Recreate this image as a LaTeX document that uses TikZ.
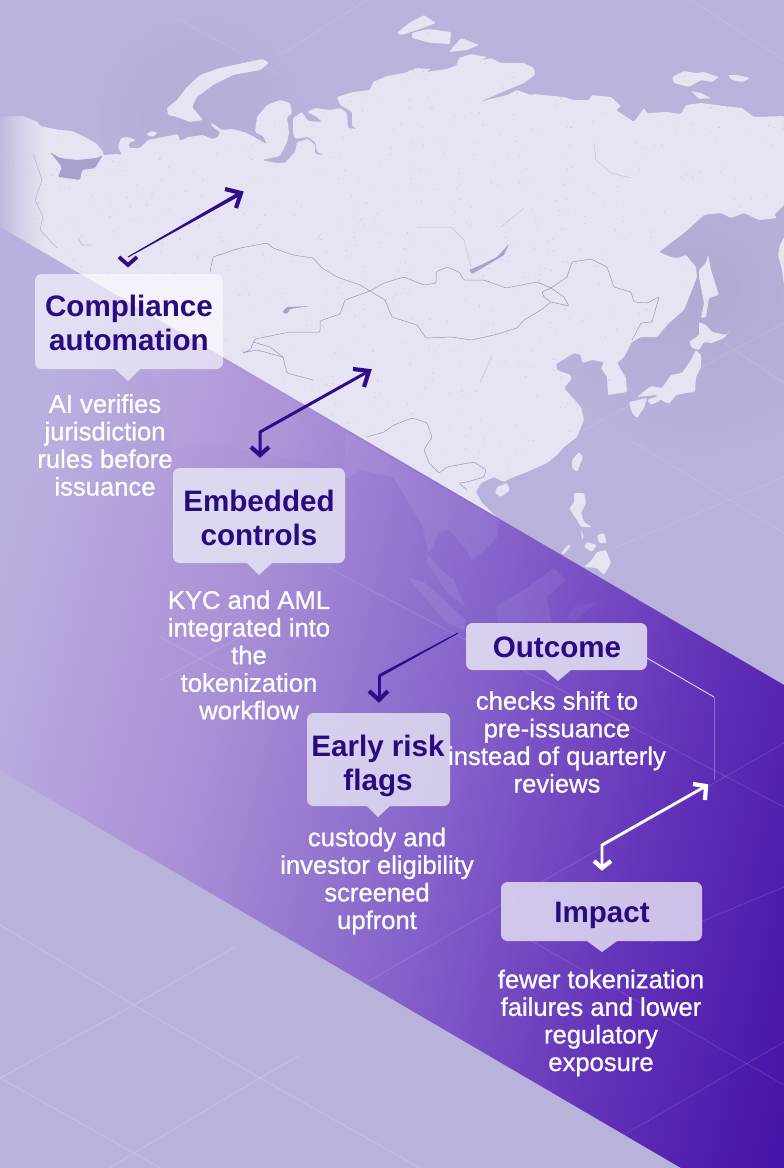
\documentclass[tikz,border=0pt]{standalone}
\usepackage{fontspec}
\setmainfont{Liberation Sans}
\newfontfamily\bodyfont[FakeBold=0.8]{Liberation Sans}
\usetikzlibrary{calc,arrows.meta,shapes.geometric}
\definecolor{base}{HTML}{B9B2DA}
\definecolor{landc}{HTML}{E6E3F2}
\definecolor{waterc}{HTML}{A8A1CC}
\definecolor{borderc}{HTML}{9C95C2}
\definecolor{ink}{HTML}{2A0A80}
\definecolor{arrowc}{HTML}{2F0C8C}
\definecolor{cardc}{HTML}{E6E2F4}
\definecolor{bA}{HTML}{BBAFDF}
\definecolor{bB}{HTML}{A88FD6}
\definecolor{bC}{HTML}{8460CA}
\definecolor{bD}{HTML}{6232B8}
\definecolor{bE}{HTML}{4310A6}
\pgfdeclarehorizontalshading{bandsh}{100bp}{color(0bp)=(bA); color(25bp)=(bA); color(40bp)=(bB); color(55bp)=(bC); color(68bp)=(bD); color(81bp)=(bE); color(100bp)=(bE)}
\newcommand{\landpath}{
 (0,117)--(23,116)--(38,122)--(40,126)--(60,130)--(72,131)--(85,137)--(97,144)--(103,152)--(103,155)--(117,154)--(122,155)--(118,147)--(121,138)--(128,137)--(136,140)--(129,143)--(129,148)--(140,148)--(148,140)--(163,137)--(178,134)--(180,141)--(188,137)--(203,135)--(212,139)--(218,137)--(220,132)--(213,127)--(210,123)--(215,125)--(222,130)--(233,129)--(247,133)--(263,142)--(267,144)--(263,136)--(255,132)--(257,117)--(267,105)--(280,100)--(290,103)--(292,113)--(287,117)--(289,133)--(287,142)--(280,156)--(262,160)--(277,163)--(285,163)--(295,152)--(297,142)--(308,139)--(315,145)--(315,154)--(325,155)--(317,152)--(315,142)--(308,137)--(295,139)--(293,133)--(293,118)--(302,112)--(308,121)--(322,122)--(317,117)--(307,112)--(315,108)--(330,110)--(340,108)--(347,113)--(348,128)--(357,129)--(352,126)--(352,112)--(340,105)--(337,97)--(353,92)--(370,90)--(373,82)--(387,76)--(404,73)--(417,68)--(431,69)--(426,72)--(447,69)--(457,65)--(459,58)--(471,54)--(487,57)--(481,60)--(491,58)--(501,63)--(524,63)--(534,68)--(535,75)--(524,83)--(512,88)--(479,102)--(507,95)--(517,90)--(531,95)--(534,94)--(564,97)--(574,100)--(589,100)--(592,95)--(611,97)--(621,106)--(616,110)--(634,122)--(644,108)--(647,113)--(667,112)--(681,114)--(686,105)--(701,103)--(724,106)--(742,108)--(754,117)--(784,116)--(784,205)--(774,215)--(777,218)--(759,220)--(744,213)--(731,218)--(721,213)--(704,215)--(684,233)--(659,252)--(671,257)--(677,258)--(686,255)--(696,267)--(697,277)--(692,290)--(684,310)--(669,323)--(657,337)--(641,337)--(632,342)--(624,357)--(617,363)--(626,378)--(627,392)--(608,395)--(607,377)--(601,368)--(604,362)--(592,360)--(582,363)--(581,355)--(574,353)--(566,358)--(556,364)--(557,370)--(571,375)--(571,380)--(564,388)--(581,407)--(584,420)--(577,437)--(564,447)--(557,455)--(547,463)--(527,472)--(511,478)--(504,482)--(494,477)--(481,483)--(476,492)--(482,503)--(497,517)--(520,650)--(0,650)--cycle
 (167,108)--(177,100)--(187,87)--(200,75)--(220,68)--(248,62)--(263,59)--(269,63)--(260,70)--(233,75)--(213,85)--(197,97)--(192,107)--(203,120)--(190,122)--(177,117)--(168,115)--cycle
 (146,134)--(152,131)--(158,133)--(152,137)--cycle
 (397,33)--(409,23)--(424,15)--(436,23)--(420,29)--(405,34)--(400,35)--cycle
 (412,33)--(428,29)--(451,32)--(450,44)--(431,43)--(412,38)--cycle
 (449,52)--(461,38)--(479,45)--(467,50)--cycle
 (672,77)--(684,71)--(696,73)--(704,72)--(719,77)--(712,82)--(701,80)--(689,87)--(674,83)--cycle
 (728,75)--(737,75)--(750,78)--(742,82)--(732,80)--cycle
 (691,91)--(701,93)--(711,98)--(699,99)--cycle
 (784,237)--(780,245)--(778,255)--(782,270)--(784,285)--cycle
 (699,270)--(706,263)--(708,255)--(711,270)--(719,295)--(718,295)--(709,298)--(706,317)--(701,318)--(704,303)--(699,277)--cycle
 (699,322)--(706,325)--(712,332)--(726,335)--(732,329)--(724,338)--(712,343)--(704,342)--(699,350)--(692,348)--(689,342)--(699,335)--(699,327)--cycle
 (696,350)--(701,355)--(701,367)--(696,377)--(695,392)--(686,393)--(676,395)--(669,404)--(661,400)--(656,395)--(637,397)--(651,386)--(662,388)--(671,375)--(682,373)--(691,360)--cycle
 (629,402)--(647,398)--(644,408)--(637,418)--(632,413)--cycle
 (647,400)--(661,395)--(661,400)--(651,405)--cycle
 (579,452)--(583,457)--(577,472)--(572,468)--(572,460)--cycle
 (497,487)--(507,483)--(510,490)--(501,497)--(495,493)--cycle
 (574,493)--(584,493)--(586,503)--(581,513)--(584,522)--(592,527)--(581,527)--(577,520)--(569,508)--(574,503)--cycle
 (597,552)--(606,550)--(611,563)--(604,575)--(597,568)--(584,567)--(592,560)--cycle
 (597,535)--(604,533)--(607,543)--(599,543)--cycle
 (587,542)--(597,545)--(592,552)--(584,547)--cycle
 (581,530)--(584,537)--(582,540)--cycle
 (569,544)--(571,546)--(563,555)--(561,553)--cycle
}
\newcommand{\taperline}[5]{\fill[#1] ($(#2)!#4!90:(#3)$)--($(#3)!#5!-90:(#2)$)--($(#3)!#5!90:(#2)$)--($(#2)!#4!-90:(#3)$)--cycle;}
\tikzset{
 x=1pt,y=-1pt,
 cardbox/.style={draw=none,rounded corners=6.5pt},
 gridline/.style={draw=white,line width=.7pt,opacity=.14},
 coast/.style={draw=borderc,line width=.5pt,line join=round,rounded corners=1pt},
 heading/.style={font=\fontsize{29.6}{33.5}\selectfont\bfseries,text=ink,align=center,inner sep=0pt},
 body/.style={font=\bodyfont\fontsize{25.6}{27.6}\selectfont,text=white,align=center,inner sep=0pt},
 chevron/.style={line width=4.2pt,line join=miter,line cap=butt,fill=none},
}
\begin{document}
\begin{tikzpicture}
\useasboundingbox (0,0) rectangle (784,1168);
\fill[base] (0,0) rectangle (784,1168);
% soft darker seas
\foreach \r in {20,40,...,160}{\fill[waterc,opacity=.03] (700,290) circle[radius=\r];}
\foreach \r in {20,40,...,100}{\fill[waterc,opacity=.03] (200,120) circle[radius=\r];}
\begin{scope}
\clip (0,0)--(784,0)--(784,685)--(0,227)--cycle;
\draw[gridline] (180,20)--(280,75);
\draw[gridline] (277,57)--(367,0);
\draw[gridline] (691,0)--(784,60);
\draw[gridline] (584,430)--(784,323);
\draw[gridline] (617,547)--(784,477);
\draw[gridline] (724,343)--(784,383);
\draw[gridline] (630,440)--(784,533);
% land
\fill[landc,rounded corners=1.2pt] \landpath;
\begin{scope}
\clip[rounded corners=1.2pt] \landpath;
\pgfmathsetseed{7}
\foreach \i in {1,...,1800}{
 \pgfmathsetmacro{\dx}{rnd*784}
 \pgfmathsetmacro{\dy}{rnd*560}
 \pgfmathsetmacro{\dr}{.3+rnd*.4}
 \fill[borderc,opacity=.38] (\dx,\dy) circle[radius=\dr];
}
\end{scope}
% inland water
\fill[waterc,rounded corners=1.5pt] (50,152)--(60,158)--(77,160)--(97,158)--(103,155)--(95,168)--(82,170)--(80,180)--(67,178)--(58,177)--(62,167)--cycle;
\fill[waterc,rounded corners=1pt] (282,312)--(287,307)--(310,306)--(290,309)--(287,314)--cycle;
\fill[waterc,rounded corners=1pt] (509,244)--(504,255)--(484,267)--(472,274)--(469,270)--(481,265)--(497,257)--cycle;
% borders
\draw[coast] (210,272)--(213,257)--(240,248)--(267,243)--(273,248)--(293,255)--(313,258)--(322,268)--(337,277)--(360,285)--(370,291)--(384,283)--(404,277)--(424,285)--(436,283)--(436,272)--(447,267)--(459,272)--(464,280)--(484,280)--(506,288)--(537,282)--(551,288)--(567,277)--(572,262)--(591,259)--(607,267)--(614,287)--(631,292)--(634,302)--(647,303)--(659,297)--(652,322)--(641,323)--(632,340);
\draw[coast] (370,291)--(385,300)--(389,310)--(392,317)--(417,325)--(426,338)--(452,337)--(471,340)--(494,335)--(517,328)--(524,320)--(541,310)--(551,302)--(544,297)--(542,292)--(551,288);
\draw[coast] (551,302)--(569,306)--(564,297)--(551,288);
\draw[coast] (370,291)--(345,300)--(340,314)--(320,321)--(320,332)--(290,332)--(255,339)--(250,350)--(242,353)--(257,350)--(283,357)--(287,373)--(313,380);
\draw[coast] (253,342)--(270,347)--(283,357);
\draw[coast] (384,432)--(394,425)--(412,418)--(419,420)--(427,423)--(432,437)--(424,450)--(429,463)--(439,473)--(447,467)--(474,462)--(486,470)--(484,477)--(467,482)--(459,483)--(467,490);
\draw[coast] (367,437)--(384,432);
\draw[coast,opacity=.45] (594,143)--(596,160)--(611,173)--(631,178);
\draw[coast,opacity=.45] (417,227)--(451,227)--(464,240)--(471,267);
\draw[coast,opacity=.45] (501,227)--(524,208);
\draw[coast,opacity=.45] (480,383)--(492,355);
\draw[coast,opacity=.6] (33,153)--(42,180)--(35,200)--(43,217)--(40,230)--(57,248);
\draw[coast,opacity=.6] (78,237)--(82,245)--(92,245);
% left fade of the land
\clip[rounded corners=1.2pt] \landpath;
\foreach \i in {0,...,15}{
 \pgfmathsetmacro{\op}{.82*(1-\i/16)^1.4}
 \fill[base,opacity=\op] ({\i*3},100) rectangle ({\i*3+3.1},300);
}
\end{scope}
% band
\begin{scope}
\clip (0,227)--(784,685)--(784,1168)--(681,1168)--(0,770)--cycle;
\shade[shading=bandsh,shading angle=-14] (0,227) rectangle (784,1168);
\fill[white,opacity=.04] (130,303)--(240,370)--(345,431)--(345,470)--(233,447)--(173,447)--cycle;
\fill[white,opacity=.08] (345,431)--(499,520)--(497,537)--(481,553)--(471,560)--(467,550)--(449,530)--(439,532)--(431,550)--(426,553)--(441,570)--(454,580)--(464,605)--(447,593)--(439,580)--(427,563)--(427,547)--(423,527)--(403,493)--(393,477)--(360,470)--(345,480)--cycle;
\fill[white,opacity=.08] (407,577)--(424,582)--(444,600)--(466,620)--(464,630)--(447,623)--(427,600)--cycle;
\fill[white,opacity=.07] (496,607)--(507,600)--(527,588)--(554,568)--(566,580)--(547,597)--(551,622)--(497,622)--cycle;
\fill[white,opacity=.05] (567,618)--(574,607)--(597,602)--(584,613)--(574,622)--cycle;
\draw[gridline] (327,567)--(784,807);
\draw[gridline] (365,983)--(784,743);
\draw[gridline] (160,637)--(240,680);
\draw[gridline] (160,680)--(250,632);
\draw[gridline] (530,940)--(784,1085);
\draw[gridline] (620,1137)--(784,1042);
\draw[gridline] (650,943)--(784,887);
\end{scope}
% grid below band
\begin{scope}
\clip (0,770)--(681,1168)--(0,1168)--cycle;
\draw[gridline,opacity=.22] (0,925)--(134,1005)--(260,1078)--(420,1168);
\draw[gridline,opacity=.22] (0,1078)--(134,1153)--(160,1168);
\draw[gridline,opacity=.22] (0,1078)--(134,1005)--(235,947);
\draw[gridline,opacity=.22] (110,1168)--(134,1153)--(260,1078)--(300,1055);
\end{scope}
% cards
\fill[white,opacity=.6,cardbox] (35,274) rectangle (223,369);
\fill[white,opacity=.6] (115,369)--(128,381)--(140,369)--cycle;
\fill[cardc,opacity=.86,cardbox] (173,468) rectangle (345,563);
\fill[cardc,opacity=.86] (247,563)--(259,575)--(272,563)--cycle;
\fill[cardc,opacity=.82,cardbox] (307,713) rectangle (450,806);
\fill[cardc,opacity=.82] (367,806)--(378,817)--(390,806)--cycle;
\fill[cardc,opacity=.86,cardbox] (466,623) rectangle (647,670);
\fill[cardc,opacity=.86] (545,670)--(558,681)--(571,670)--cycle;
\fill[cardc,opacity=.82,cardbox] (501,882) rectangle (702,941);
\fill[cardc,opacity=.82] (587,941)--(602,952)--(617,941)--cycle;
% headings
\node[heading] (h1) at (129,323) {Compliance\\automation};
\node[heading] (h2) at (259,518) {Embedded\\controls};
\node[heading] (h3) at (378,766) {Early risk\\flags};
\node[heading] (h4) at (557,647) {Outcome};
\node[heading] (h5) at (602,915) {Impact};
% bodies
\node[body] (b1) at (105,445) {AI verifies\\jurisdiction\\rules before\\issuance};
\node[body] (b2) at (249,655) {KYC and AML\\integrated into\\the\\tokenization\\workflow};
\node[body] (b3) at (377,881) {custody and\\investor eligibility\\screened\\upfront};
\node[body] (b4) at (557,742) {checks shift to\\pre-issuance\\instead of quarterly\\reviews};
\node[body] (b5) at (601,1023) {fewer tokenization\\failures and lower\\regulatory\\exposure};
% connectors
\coordinate (a1s) at (128,265); \coordinate (a1e) at (128,257); \coordinate (a1t) at (241,193);
\coordinate (a1l) at (119,257); \coordinate (a1r) at (137,257);
\coordinate (a1u) at (225,189); \coordinate (a1v) at (236,208);
\coordinate (a2s) at (260,455); \coordinate (a2e) at (260,432); \coordinate (a2t) at (369,371);
\coordinate (a2l) at (251,447); \coordinate (a2r) at (269,447);
\coordinate (a2u) at (353,369); \coordinate (a2v) at (364,387);
\coordinate (a3s) at (458,633); \coordinate (a3e) at (379,676); \coordinate (a3t) at (379,700);
\coordinate (a3l) at (369,691); \coordinate (a3r) at (388,691);
\coordinate (a4s) at (602,868); \coordinate (a4e) at (602,845); \coordinate (a4t) at (706,786);
\coordinate (a4l) at (594,861); \coordinate (a4r) at (611,861);
\coordinate (a4u) at (693,784); \coordinate (a4v) at (705,800);
\coordinate (a5s) at (647,658); \coordinate (a5e) at (714,697); \coordinate (a5t) at (714,780);
% connector 1, tapered towards the lower end
\taperline{arrowc}{a1e}{a1t}{.5pt}{2pt}
\draw[arrowc,chevron,line width=3.8pt] (a1l)--(a1s)--(a1r);
\draw[arrowc,chevron] (a1u)--(a1t)--(a1v);
% connector 2
\draw[arrowc,line width=3pt] (a2s)--(a2e)--(a2t);
\draw[arrowc,chevron] (a2l)--(a2s)--(a2r);
\draw[arrowc,chevron] (a2u)--(a2t)--(a2v);
% connector 3
\taperline{arrowc}{a3s}{a3e}{.5pt}{1.5pt}
\draw[arrowc,line width=3pt] (a3e)--(a3t);
\draw[arrowc,chevron] (a3l)--(a3t)--(a3r);
% connector 4
\draw[white,line width=2.8pt] (a4s)--(a4e)--(a4t);
\draw[white,chevron] (a4l)--(a4s)--(a4r);
\draw[white,chevron] (a4u)--(a4t)--(a4v);
% connector 5
\draw[white,line width=.9pt,opacity=.8] (a5s)--(a5e);
\draw[white,line width=.9pt,opacity=.3] (a5e)--(a5t);
\end{tikzpicture}
\end{document}
